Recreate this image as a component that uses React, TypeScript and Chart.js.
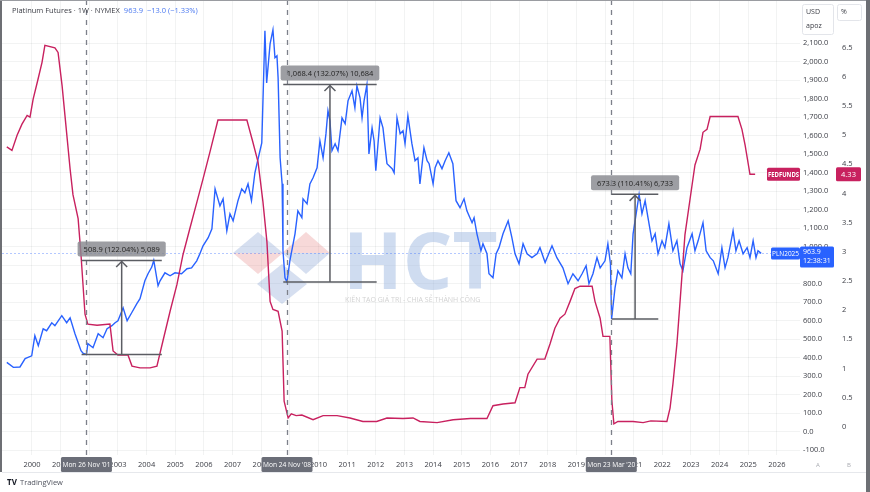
import React, { useEffect, useRef } from "react";
import { Chart, registerables } from "chart.js";

Chart.register(...registerables);

const FONT = "'Open Sans', 'Noto Sans', sans-serif";

// Platinum futures (weekly) — decimal year / USD
const platYears = [
  1999.12, 1999.35, 1999.58, 1999.76, 1999.99, 2000.1, 2000.22, 2000.39, 2000.51, 2000.69, 2000.8,
  2001.04, 2001.21, 2001.33, 2001.5, 2001.71, 2001.78, 2001.9, 2001.95, 2002.13, 2002.31, 2002.48,
  2002.62, 2002.79, 2002.9, 2003.0, 2003.18, 2003.32, 2003.48, 2003.66, 2003.77, 2003.94, 2004.05,
  2004.18, 2004.25, 2004.4, 2004.47, 2004.64, 2004.82, 2004.99, 2005.22, 2005.41, 2005.57, 2005.75,
  2005.86, 2005.97, 2006.15, 2006.28, 2006.39, 2006.56, 2006.67, 2006.8, 2006.91, 2007.02, 2007.19,
  2007.32, 2007.43, 2007.54, 2007.66, 2007.78, 2007.9, 2008.02, 2008.13, 2008.19, 2008.31, 2008.41,
  2008.48, 2008.55, 2008.59, 2008.66, 2008.73, 2008.76, 2008.83, 2008.9, 2009.0, 2009.18, 2009.28,
  2009.42, 2009.46, 2009.6, 2009.7, 2009.81, 2009.95, 2010.05, 2010.16, 2010.26, 2010.33, 2010.4,
  2010.47, 2010.58, 2010.68, 2010.82, 2010.93, 2011.03, 2011.17, 2011.27, 2011.34, 2011.45, 2011.52,
  2011.59, 2011.69, 2011.76, 2011.87, 2011.94, 2012.0, 2012.15, 2012.25, 2012.39, 2012.57, 2012.64,
  2012.74, 2012.85, 2012.95, 2013.02, 2013.12, 2013.26, 2013.37, 2013.47, 2013.54, 2013.68, 2013.79,
  2013.86, 2014.0, 2014.07, 2014.17, 2014.31, 2014.42, 2014.55, 2014.69, 2014.8, 2014.94, 2015.08,
  2015.18, 2015.36, 2015.43, 2015.53, 2015.67, 2015.74, 2015.88, 2015.95, 2016.09, 2016.2, 2016.3,
  2016.44, 2016.62, 2016.75, 2016.86, 2017.0, 2017.14, 2017.28, 2017.45, 2017.63, 2017.73, 2017.91,
  2018.15, 2018.32, 2018.53, 2018.71, 2018.88, 2019.06, 2019.2, 2019.34, 2019.44, 2019.58, 2019.72,
  2019.83, 2020.0, 2020.1, 2020.19, 2020.23, 2020.35, 2020.45, 2020.59, 2020.7, 2020.8, 2020.9,
  2020.98, 2021.12, 2021.19, 2021.29, 2021.4, 2021.5, 2021.64, 2021.75, 2021.85, 2021.99, 2022.09,
  2022.23, 2022.37, 2022.51, 2022.62, 2022.72, 2022.86, 2023.04, 2023.14, 2023.25, 2023.42, 2023.53,
  2023.67, 2023.78, 2023.95, 2024.08, 2024.19, 2024.29, 2024.47, 2024.57, 2024.68, 2024.82, 2024.96,
  2025.06, 2025.17, 2025.27, 2025.34, 2025.45,
];
const platPrices = [
  375, 348, 350, 395, 410, 519, 465, 556, 546, 589, 573,
  627, 589, 616, 530, 438, 425, 417, 476, 454, 530, 508,
  557, 573, 589, 600, 670, 600, 643, 692, 719, 816, 854,
  890, 926, 789, 816, 859, 843, 859, 854, 881, 886, 924,
  962, 1005, 1049, 1097, 1313, 1221, 1259, 1086, 1178, 1140, 1249,
  1313, 1292, 1340, 1249, 1400, 1481, 1562, 2167, 1886, 2097, 2173,
  2022, 2032, 1913, 1481, 1340, 978, 832, 809, 924, 1070, 1194,
  1157, 1259, 1232, 1340, 1373, 1427, 1573, 1481, 1610, 1735, 1681,
  1519, 1557, 1519, 1697, 1665, 1789, 1843, 1751, 1870, 1805, 1697,
  1789, 1877, 1502, 1643, 1573, 1411, 1697, 1643, 1449, 1422, 1400,
  1697, 1611, 1627, 1557, 1708, 1557, 1465, 1481, 1340, 1535, 1465,
  1449, 1340, 1427, 1465, 1422, 1465, 1508, 1449, 1249, 1211, 1259,
  1194, 1130, 1157, 1070, 978, 1016, 962, 854, 832, 962, 995,
  1070, 1140, 1049, 962, 908, 1016, 962, 941, 962, 995, 915,
  1005, 941, 886, 800, 854, 816, 854, 897, 800, 854, 941,
  886, 924, 1016, 908, 610, 778, 870, 832, 962, 886, 854,
  1070, 1211, 1283, 1178, 1249, 1157, 1032, 1070, 962, 1032, 995,
  1124, 978, 1032, 908, 870, 995, 1070, 978, 1032, 1130, 978,
  941, 924, 854, 995, 886, 941, 1086, 978, 1032, 962, 995,
  941, 1032, 941, 978, 963.9,
];

// Effective federal funds rate (%)
const fedYears = [
  1999.12, 1999.3, 1999.48, 1999.65, 1999.83, 1999.93, 2000.04, 2000.21, 2000.35, 2000.45, 2000.8,
  2000.91, 2001.05, 2001.15, 2001.33, 2001.43, 2001.61, 2001.71, 2001.85, 2001.95, 2002.27, 2002.72,
  2002.83, 2003.0, 2003.35, 2003.49, 2003.77, 2004.12, 2004.36, 2004.57, 2004.82, 2005.06, 2005.27,
  2005.51, 2005.76, 2005.97, 2006.21, 2006.49, 2007.02, 2007.5, 2007.71, 2007.89, 2008.06, 2008.2,
  2008.31, 2008.41, 2008.59, 2008.73, 2008.8, 2008.94, 2009.05, 2009.22, 2009.42, 2009.81, 2010.16,
  2010.65, 2011.1, 2011.55, 2012.03, 2012.39, 2012.95, 2013.3, 2013.54, 2014.14, 2014.7, 2015.3,
  2015.88, 2016.09, 2016.44, 2016.86, 2017.03, 2017.2, 2017.31, 2017.63, 2017.9, 2018.08, 2018.25,
  2018.43, 2018.6, 2018.78, 2018.95, 2019.13, 2019.55, 2019.65, 2019.83, 2019.93, 2020.17, 2020.24,
  2020.31, 2020.45, 2020.98, 2021.33, 2021.6, 2022.16, 2022.27, 2022.37, 2022.51, 2022.62, 2022.79,
  2022.97, 2023.14, 2023.32, 2023.42, 2023.56, 2023.67, 2024.64, 2024.78, 2024.89, 2025.06, 2025.24,
];
const fedRates = [
  4.8, 4.74, 5.0, 5.19, 5.34, 5.31, 5.62, 5.96, 6.25, 6.54, 6.5,
  6.42, 5.85, 5.34, 4.42, 3.98, 3.57, 2.95, 1.93, 1.76, 1.74, 1.76,
  1.3, 1.23, 1.23, 1.04, 1.01, 1.01, 1.04, 1.47, 1.98, 2.44, 2.95,
  3.4, 3.86, 4.25, 4.71, 5.26, 5.26, 5.26, 4.88, 4.54, 3.86, 3.17,
  2.15, 2.01, 1.98, 1.64, 0.44, 0.15, 0.22, 0.19, 0.2, 0.12, 0.19,
  0.19, 0.15, 0.09, 0.09, 0.15, 0.14, 0.15, 0.09, 0.07, 0.12, 0.14,
  0.14, 0.36, 0.39, 0.41, 0.67, 0.67, 0.9, 1.16, 1.16, 1.42, 1.69,
  1.86, 1.93, 2.15, 2.37, 2.41, 2.41, 2.15, 1.86, 1.55, 1.55, 0.44,
  0.05, 0.09, 0.09, 0.07, 0.1, 0.09, 0.32, 0.73, 1.42, 2.15, 3.29,
  3.91, 4.49, 4.76, 5.05, 5.1, 5.32, 5.32, 5.1, 4.83, 4.33, 4.33,
];

const yearTicks = [
  2000, 2001, 2002, 2003, 2004, 2005, 2006, 2007, 2008, 2009, 2010, 2011, 2012, 2013,
  2014, 2015, 2016, 2017, 2018, 2019, 2020, 2021, 2022, 2023, 2024, 2025, 2026,
];
const priceTicks = [
  -100, 0, 100, 200, 300, 400, 500, 600, 700, 800, 900, 1000, 1100, 1200, 1300, 1400,
  1500, 1600, 1700, 1800, 1900, 2000, 2100,
];
const rateTicks = [0, 0.5, 1, 1.5, 2, 2.5, 3, 3.5, 4, 4.5, 5, 5.5, 6, 6.5];

const eventDates = [2001.9, 2008.9, 2020.22];
const eventLabels = ["Mon 26 Nov '01", "Mon 24 Nov '08", "Mon 23 Mar '20"];

const measureStart = [2001.73, 2008.77, 2020.23];
const measureEnd = [2004.53, 2012.03, 2021.86];
const measureArrow = [2003.13, 2010.4, 2021.05];
const measureLow = [417.0, 809.0, 609.8];
const measureHigh = [925.9, 1877.4, 1283.1];
const measureText = ["508.9 (122.04%) 5,089", "1,068.4 (132.07%) 10,684", "673.3 (110.41%) 6,733"];

const lastPrice = 963.9;
const lastRate = 4.33;
const headerTitle = "Platinum Futures · 1W · NYMEX";
const headerQuote = "963.9  −13.0 (−1.33%)";

const BLUE = "#2962ff";
const RED = "#c8215f";

function rr(ctx: CanvasRenderingContext2D, x: number, y: number, w: number, h: number, r: number) {
  ctx.beginPath();
  ctx.moveTo(x + r, y);
  ctx.lineTo(x + w - r, y);
  ctx.quadraticCurveTo(x + w, y, x + w, y + r);
  ctx.lineTo(x + w, y + h - r);
  ctx.quadraticCurveTo(x + w, y + h, x + w - r, y + h);
  ctx.lineTo(x + r, y + h);
  ctx.quadraticCurveTo(x, y + h, x, y + h - r);
  ctx.lineTo(x, y + r);
  ctx.quadraticCurveTo(x, y, x + r, y);
  ctx.closePath();
}

function halfDiamond(ctx: CanvasRenderingContext2D, cx: number, cy: number, hw: number, hh: number, top: boolean, color: string) {
  ctx.beginPath();
  ctx.moveTo(cx - hw, cy);
  ctx.lineTo(cx, top ? cy - hh : cy + hh);
  ctx.lineTo(cx + hw, cy);
  ctx.closePath();
  ctx.fillStyle = color;
  ctx.fill();
}

const overlay = {
  id: "tvOverlay",
  beforeDatasetsDraw(chart: any) {
    const ctx: CanvasRenderingContext2D = chart.ctx;
    const { chartArea } = chart;
    const y = chart.scales.y;
    ctx.save();
    // watermark
    const blue = "rgba(120,150,205,0.30)";
    const pink = "rgba(228,130,130,0.30)";
    halfDiamond(ctx, 258, 253, 25, 21, true, blue);
    halfDiamond(ctx, 258, 253, 25, 21, false, pink);
    halfDiamond(ctx, 306, 253, 24, 21, true, pink);
    halfDiamond(ctx, 306, 253, 24, 21, false, blue);
    halfDiamond(ctx, 282, 284, 25, 20, true, blue);
    halfDiamond(ctx, 282, 284, 25, 20, false, blue);
    ctx.fillStyle = "rgba(160,185,225,0.5)";
    ctx.font = `bold 78px ${FONT}`;
    ctx.textBaseline = "alphabetic";
    ctx.textAlign = "left";
    ctx.fillText("HCT", 343, 289, 156);
    ctx.fillStyle = "#d2d2d2";
    ctx.font = `7px ${FONT}`;
    ctx.fillText("KIẾN TẠO GIÁ TRỊ - CHIA SẺ THÀNH CÔNG", 345, 302, 153);
    // last price line
    const yp = Math.round(y.getPixelForValue(lastPrice)) + 0.5;
    ctx.strokeStyle = "rgba(41,98,255,0.35)";
    ctx.lineWidth = 1;
    ctx.setLineDash([2, 2]);
    ctx.beginPath();
    ctx.moveTo(chartArea.left, yp);
    ctx.lineTo(chartArea.right, yp);
    ctx.stroke();
    ctx.restore();
  },
  afterDatasetsDraw(chart: any) {
    const ctx: CanvasRenderingContext2D = chart.ctx;
    const { chartArea } = chart;
    const x = chart.scales.x;
    const y = chart.scales.y;
    ctx.save();
    // event dashed lines
    ctx.strokeStyle = "#7d808a";
    ctx.lineWidth = 1.3;
    ctx.setLineDash([5, 5]);
    eventDates.forEach((d) => {
      const px = Math.round(x.getPixelForValue(d)) + 0.5;
      ctx.beginPath();
      ctx.moveTo(px, chartArea.top);
      ctx.lineTo(px, chartArea.bottom + 2);
      ctx.stroke();
    });
    ctx.setLineDash([]);
    // measurements
    for (let i = 0; i < measureText.length; i++) {
      const xl = x.getPixelForValue(measureStart[i]);
      const xr = x.getPixelForValue(measureEnd[i]);
      const xa = x.getPixelForValue(measureArrow[i]);
      const yl = y.getPixelForValue(measureLow[i]);
      const yh = y.getPixelForValue(measureHigh[i]);
      ctx.strokeStyle = "#5b5d63";
      ctx.lineWidth = 1.5;
      ctx.beginPath();
      ctx.moveTo(xl, yl);
      ctx.lineTo(xr, yl);
      ctx.moveTo(xl, yh);
      ctx.lineTo(xr, yh);
      ctx.moveTo(xa, yl);
      ctx.lineTo(xa, yh + 1);
      ctx.stroke();
      ctx.beginPath();
      ctx.moveTo(xa - 5.5, yh + 6.5);
      ctx.lineTo(xa, yh + 1);
      ctx.lineTo(xa + 5.5, yh + 6.5);
      ctx.stroke();
      ctx.font = `7.5px ${FONT}`;
      const tw = ctx.measureText(measureText[i]).width;
      const bw = tw + 12;
      const bh = 15;
      const bx = xa - bw / 2;
      const by = yh - 4 - bh;
      rr(ctx, bx, by, bw, bh, 2);
      ctx.fillStyle = "rgba(135,137,143,0.82)";
      ctx.fill();
      ctx.fillStyle = "#232323";
      ctx.textAlign = "center";
      ctx.textBaseline = "middle";
      ctx.fillText(measureText[i], xa, by + bh / 2 + 0.5);
    }
    ctx.restore();
  },
  afterDraw(chart: any) {
    const ctx: CanvasRenderingContext2D = chart.ctx;
    const { chartArea } = chart;
    const x = chart.scales.x;
    const y = chart.scales.y;
    const y1 = chart.scales.y1;
    ctx.save();
    ctx.textBaseline = "middle";
    // header
    ctx.font = `7.5px ${FONT}`;
    ctx.textAlign = "left";
    ctx.fillStyle = "#3b3d45";
    ctx.fillText(headerTitle, 12, 11);
    const tw = ctx.measureText(headerTitle).width;
    ctx.fillStyle = "#4a78f0";
    ctx.fillText(headerQuote, 12 + tw + 4, 11);
    // event date boxes on time axis
    ctx.font = `7px ${FONT}`;
    ctx.textAlign = "center";
    eventDates.forEach((d, i) => {
      const px = x.getPixelForValue(d);
      rr(ctx, px - 25.5, chartArea.bottom + 2, 51, 15, 1.5);
      ctx.fillStyle = "#6b6e78";
      ctx.fill();
      ctx.fillStyle = "#ffffff";
      ctx.fillText(eventLabels[i], px, chartArea.bottom + 9.5, 48);
    });
    // FEDFUNDS labels
    const yr = y1.getPixelForValue(lastRate);
    ctx.font = `bold 6.5px ${FONT}`;
    rr(ctx, 767, yr - 6.5, 33, 13, 1.5);
    ctx.fillStyle = RED;
    ctx.fill();
    ctx.fillStyle = "#fff";
    ctx.fillText("FEDFUNDS", 783.5, yr + 0.5, 31);
    rr(ctx, 836, yr - 7, 25, 14, 1.5);
    ctx.fillStyle = RED;
    ctx.fill();
    ctx.fillStyle = "#fff";
    ctx.font = `7.5px ${FONT}`;
    ctx.fillText(lastRate.toFixed(2), 848.5, yr + 0.5);
    // Platinum labels
    const yp = y.getPixelForValue(lastPrice);
    ctx.font = `6.5px ${FONT}`;
    rr(ctx, 771, yp - 6, 29, 12, 1.5);
    ctx.fillStyle = BLUE;
    ctx.fill();
    ctx.fillStyle = "#fff";
    ctx.fillText("PLN2025", 785.5, yp + 0.5, 27);
    rr(ctx, 800, yp - 7, 34, 21, 1.5);
    ctx.fillStyle = BLUE;
    ctx.fill();
    ctx.fillStyle = "#fff";
    ctx.textAlign = "left";
    ctx.font = `7px ${FONT}`;
    ctx.fillText(lastPrice.toFixed(1), 803, yp - 1);
    ctx.fillText("12:38:31", 803, yp + 8);
    // axis header boxes
    ctx.strokeStyle = "#e3e5ea";
    ctx.lineWidth = 1;
    rr(ctx, 802.5, 4.5, 31, 30, 2);
    ctx.fillStyle = "#fff";
    ctx.fill();
    ctx.stroke();
    rr(ctx, 837.5, 4.5, 24, 16, 2);
    ctx.fill();
    ctx.stroke();
    ctx.fillStyle = "#3b3d45";
    ctx.font = `7px ${FONT}`;
    ctx.textAlign = "left";
    ctx.fillText("USD", 806, 12);
    ctx.fillText("apoz", 806, 26);
    ctx.fillText("%", 841, 12);
    ctx.fillStyle = "#a8aab0";
    ctx.font = `6px ${FONT}`;
    ctx.textAlign = "center";
    ctx.fillText("A", 818, 465);
    ctx.fillText("B", 849, 465);
    // TradingView logo
    ctx.textAlign = "left";
    ctx.fillStyle = "#131722";
    ctx.font = `bold 8px ${FONT}`;
    ctx.fillText("TV", 7, 483);
    ctx.fillStyle = "#50535e";
    ctx.font = `7.5px ${FONT}`;
    ctx.fillText("TradingView", 20, 483);
    // frame
    ctx.fillStyle = "#6d6f74";
    ctx.fillRect(0, 0, 2, 472);
    ctx.fillRect(866, 0, 4, 492);
    ctx.fillStyle = "#9a9ca1";
    ctx.fillRect(0, 0, 866, 1);
    ctx.strokeStyle = "#e6e8ec";
    ctx.beginPath();
    ctx.moveTo(2, 472.5);
    ctx.lineTo(866, 472.5);
    ctx.stroke();
    ctx.restore();
  },
};

function noPad(s: any) {
  s.paddingTop = 0;
  s.paddingBottom = 0;
  s.paddingLeft = 0;
  s.paddingRight = 0;
}

export default function App() {
  const ref = useRef<HTMLCanvasElement>(null);
  useEffect(() => {
    const canvas = ref.current;
    if (!canvas) return;
    const plat = platYears.map((yv, i) => ({ x: yv, y: platPrices[i] }));
    const fed = fedYears.map((yv, i) => ({ x: yv, y: fedRates[i] }));
    const tickFont = { family: FONT, size: 7.5 };
    const chart = new Chart(canvas, {
      type: "line",
      data: {
        datasets: [
          {
            label: "FEDFUNDS",
            data: fed,
            yAxisID: "y1",
            borderColor: RED,
            borderWidth: 1.4,
            pointRadius: 0,
            tension: 0,
          },
          {
            label: "PLN2025",
            data: plat,
            yAxisID: "y",
            borderColor: BLUE,
            borderWidth: 1.4,
            pointRadius: 0,
            tension: 0,
          },
        ],
      },
      options: {
        animation: false,
        responsive: false,
        devicePixelRatio: 1,
        events: [],
        layout: { padding: { left: 2, right: 4, top: 0, bottom: 20 } },
        plugins: { legend: { display: false }, tooltip: { enabled: false } },
        scales: {
          x: {
            type: "linear",
            position: "bottom",
            min: 1998.953,
            max: 2026.806,
            afterBuildTicks: (s: any) => {
              s.ticks = yearTicks.map((v) => ({ value: v }));
            },
            afterFit: (s: any) => {
              s.height = 17;
              noPad(s);
            },
            grid: { color: "rgba(42,46,57,0.06)", drawTicks: false },
            border: { display: false },
            ticks: {
              autoSkip: false,
              maxRotation: 0,
              minRotation: 0,
              padding: 5,
              color: "#3b3d45",
              font: tickFont,
              callback: (v: any) => String(v),
            },
          },
          y: {
            type: "linear",
            position: "right",
            weight: 0,
            min: -126,
            max: 2334,
            afterBuildTicks: (s: any) => {
              s.ticks = priceTicks.map((v) => ({ value: v }));
            },
            afterFit: (s: any) => {
              s.width = 36;
              noPad(s);
            },
            grid: { color: "rgba(42,46,57,0.06)", drawTicks: false },
            border: { display: false },
            ticks: {
              autoSkip: false,
              padding: 3,
              color: "#3b3d45",
              font: tickFont,
              callback: (v: any) =>
                Number(v).toLocaleString("en-US", { minimumFractionDigits: 1, maximumFractionDigits: 1 }),
            },
          },
          y1: {
            type: "linear",
            position: "right",
            weight: 1,
            min: -0.485,
            max: 7.319,
            afterBuildTicks: (s: any) => {
              s.ticks = rateTicks.map((v) => ({ value: v }));
            },
            afterFit: (s: any) => {
              s.width = 30;
              noPad(s);
            },
            grid: { display: false, drawTicks: false },
            border: { display: false },
            ticks: {
              autoSkip: false,
              padding: 6,
              color: "#3b3d45",
              font: tickFont,
              callback: (v: any) => String(v),
            },
          },
        },
      },
      plugins: [overlay],
    } as any);
    return () => chart.destroy();
  }, []);
  return (
    <div style={{ position: "fixed", left: 0, top: 0, width: 870, height: 492, background: "#ffffff" }}>
      <canvas ref={ref} width={870} height={492} style={{ display: "block", width: 870, height: 492 }} />
    </div>
  );
}
